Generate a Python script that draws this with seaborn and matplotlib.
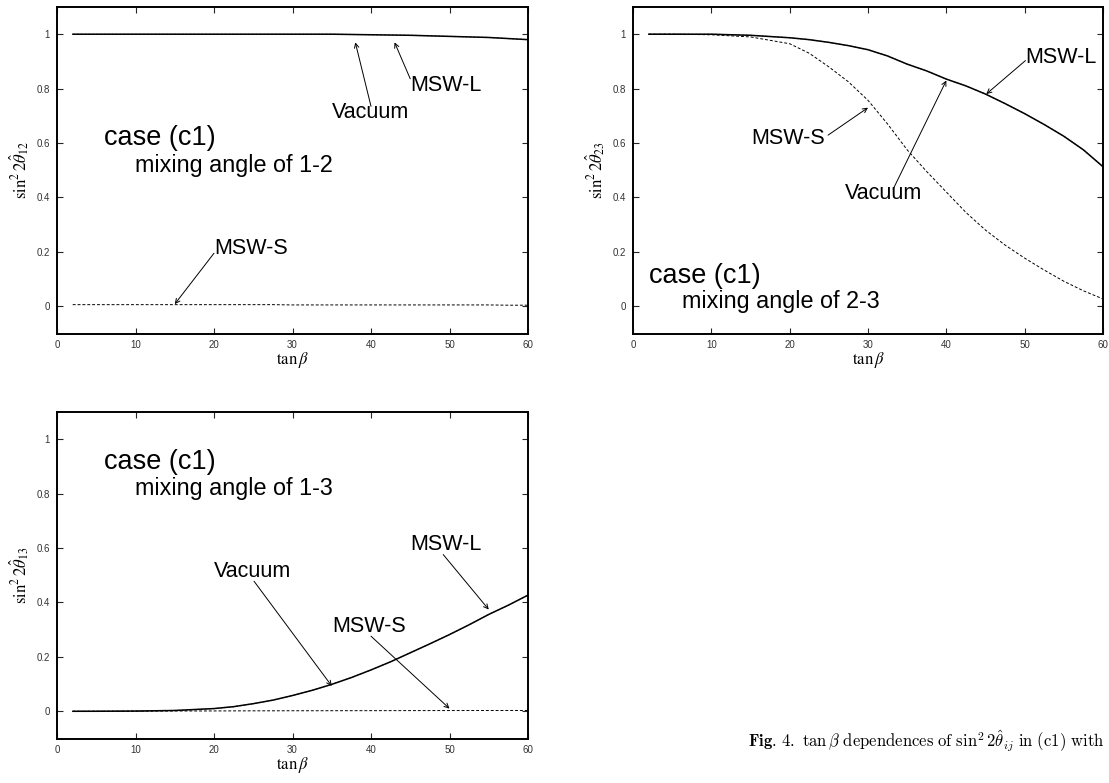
import numpy as np
import pandas as pd
import seaborn as sns
import matplotlib.pyplot as plt

# tan(beta) grid
tanb = [2, 5, 10, 15, 20, 22.5, 25, 27.5, 30, 32.5, 35, 37.5, 40, 42.5, 45, 47.5, 50, 52.5, 55, 57.5, 60]

# mixing angle 1-2
vac_12 = [1.0, 1.0, 1.0, 1.0, 1.0, 1.0, 1.0, 1.0, 1.0, 1.0, 1.0, 0.999, 0.998, 0.997, 0.996, 0.994, 0.992, 0.990, 0.988, 0.984, 0.980]
mswl_12 = [1.0, 1.0, 1.0, 1.0, 1.0, 1.0, 1.0, 1.0, 1.0, 1.0, 1.0, 0.999, 0.998, 0.997, 0.996, 0.994, 0.992, 0.990, 0.988, 0.984, 0.980]
msws_12 = [0.006, 0.006, 0.006, 0.006, 0.006, 0.006, 0.006, 0.006, 0.005, 0.005, 0.005, 0.005, 0.005, 0.005, 0.005, 0.005, 0.005, 0.005, 0.005, 0.004, 0.004]

# mixing angle 2-3
vac_23 = [1.0, 1.0, 1.0, 0.996, 0.987, 0.980, 0.970, 0.958, 0.943, 0.920, 0.890, 0.865, 0.835, 0.810, 0.780, 0.745, 0.708, 0.668, 0.625, 0.575, 0.513]
mswl_23 = [1.0, 1.0, 1.0, 0.996, 0.987, 0.980, 0.970, 0.958, 0.943, 0.920, 0.890, 0.865, 0.835, 0.810, 0.780, 0.745, 0.708, 0.668, 0.625, 0.575, 0.513]
msws_23 = [1.0, 1.0, 0.998, 0.990, 0.965, 0.930, 0.880, 0.825, 0.757, 0.670, 0.575, 0.495, 0.420, 0.345, 0.280, 0.225, 0.177, 0.133, 0.092, 0.057, 0.027]

# mixing angle 1-3
vac_13 = [0.0, 0.0001, 0.0008, 0.003, 0.010, 0.017, 0.028, 0.041, 0.058, 0.077, 0.099, 0.124, 0.152, 0.182, 0.215, 0.248, 0.282, 0.318, 0.356, 0.390, 0.427]
mswl_13 = [0.0, 0.0001, 0.0008, 0.003, 0.010, 0.017, 0.028, 0.041, 0.058, 0.077, 0.099, 0.124, 0.152, 0.182, 0.215, 0.248, 0.282, 0.318, 0.356, 0.390, 0.427]
msws_13 = [0.0, 0.0002, 0.0005, 0.001, 0.0013, 0.0015, 0.0017, 0.0018, 0.002, 0.002, 0.0021, 0.0022, 0.0023, 0.0024, 0.0025, 0.0026, 0.0027, 0.0028, 0.0029, 0.003, 0.003]

xticks = [0, 10, 20, 30, 40, 50, 60]
yticks = [0, 0.2, 0.4, 0.6, 0.8, 1.0]
ytick_labels = ['0', '0.2', '0.4', '0.6', '0.8', '1']

sns.set_style("ticks")
plt.rcParams['font.family'] = ['Liberation Sans', 'DejaVu Sans']
plt.rcParams['text.color'] = 'black'
plt.rcParams['axes.labelcolor'] = 'black'

fig = plt.figure(figsize=(11.09, 7.83), dpi=100)
W, H = 1109.0, 783.0

def make_ax(l, r, t, b):
    return fig.add_axes([l / W, 1 - b / H, (r - l) / W, (b - t) / H])

ax1 = make_ax(57, 528, 7, 333.5)
ax2 = make_ax(633, 1103, 7, 333.5)
ax3 = make_ax(57, 528, 412, 738.5)

panels = [
    (ax1, vac_12, mswl_12, msws_12, '12'),
    (ax2, vac_23, mswl_23, msws_23, '23'),
    (ax3, vac_13, mswl_13, msws_13, '13'),
]

for ax, vac, mswl, msws, ij in panels:
    sns.lineplot(x=tanb, y=vac, ax=ax, color='0.45', linewidth=0.8, linestyle=(0, (2, 1.5)))
    sns.lineplot(x=tanb, y=mswl, ax=ax, color='black', linewidth=1.1)
    sns.lineplot(x=tanb, y=msws, ax=ax, color='black', linewidth=0.7, linestyle=(0, (3, 2)))
    ax.set_xlim(0, 60)
    ax.set_ylim(-0.1, 1.1)
    ax.set_xticks(xticks)
    ax.set_xticklabels([str(v) for v in xticks])
    ax.set_yticks(yticks)
    ax.set_yticklabels(ytick_labels)
    ax.tick_params(direction='in', length=4, width=0.8, top=True, right=True,
                   labelsize=7, labelcolor='#333333', pad=5)
    for sp in ax.spines.values():
        sp.set_linewidth(1.4)
        sp.set_visible(True)
        sp.set_color('black')
    ax.set_xlabel(r'$\tan\beta$', fontsize=12, labelpad=0, math_fontfamily='stix')
    ax.set_ylabel(r'$\sin^2 2\hat{\theta}_{%s}$' % ij, fontsize=12, labelpad=4, math_fontfamily='stix')

arrow = dict(arrowstyle='->', color='black', lw=0.7, shrinkA=0, shrinkB=0, mutation_scale=8)

def label(ax, txt, x, y, size=15.5):
    ax.text(x, y, txt, ha='left', va='center', fontsize=size, color='black')

def arr(ax, tail, tip):
    ax.annotate('', xy=tip, xytext=tail, arrowprops=arrow)

# panel 1-2
label(ax1, 'case (c1)', 6.0, 0.617, 19.5)
label(ax1, 'mixing angle of 1-2', 9.9, 0.519, 16.8)
label(ax1, 'Vacuum', 35.0, 0.714)
arr(ax1, (40.0, 0.735), (38.0, 0.97))
label(ax1, 'MSW-L', 45.0, 0.81)
arr(ax1, (45.0, 0.836), (43.0, 0.97))
label(ax1, 'MSW-S', 20.0, 0.214)
arr(ax1, (20.0, 0.195), (15.0, 0.008))

# panel 2-3
label(ax2, 'case (c1)', 2.1, 0.11, 19.5)
label(ax2, 'mixing angle of 2-3', 6.2, 0.018, 16.8)
label(ax2, 'MSW-L', 50.1, 0.916)
arr(ax2, (50.1, 0.903), (45.1, 0.78))
label(ax2, 'MSW-S', 15.1, 0.617)
arr(ax2, (24.9, 0.629), (30.0, 0.73))
label(ax2, 'Vacuum', 27.1, 0.415)
arr(ax2, (33.2, 0.43), (40.0, 0.83))

# panel 1-3
label(ax3, 'case (c1)', 6.0, 0.918, 19.5)
label(ax3, 'mixing angle of 1-3', 9.9, 0.82, 16.8)
label(ax3, 'Vacuum', 20.0, 0.515)
arr(ax3, (25.1, 0.478), (35.0, 0.093))
label(ax3, 'MSW-L', 45.0, 0.612)
arr(ax3, (49.2, 0.576), (55.0, 0.374))
label(ax3, 'MSW-S', 35.0, 0.313)
arr(ax3, (40.0, 0.276), (50.0, 0.01))

fig.text(748 / W, 1 - 741 / H,
         r'$\mathbf{Fig.\,4.}\ \tan\beta\ \mathrm{dependences\ of}\ \sin^2 2\hat{\theta}_{ij}\ \mathrm{in\ (c1)\ with}$',
         fontsize=12, ha='left', va='center', math_fontfamily='cm', color='black')

fig.savefig('out.png', dpi=100)
